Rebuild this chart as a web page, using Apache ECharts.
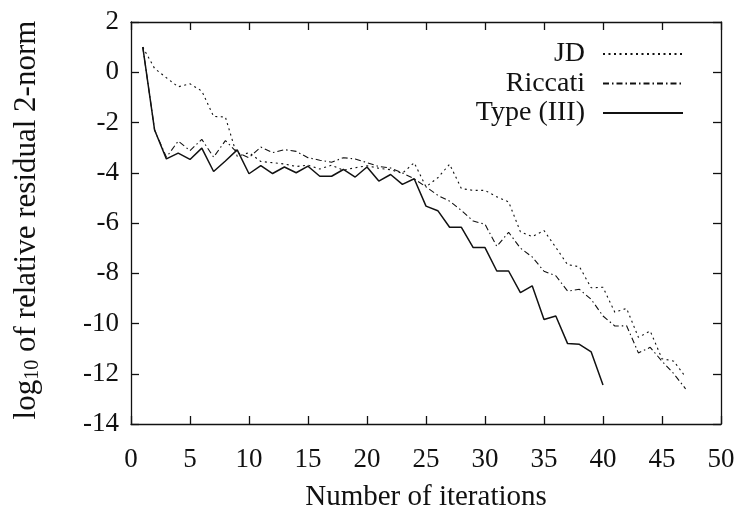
<!DOCTYPE html>
<html>
<head>
<meta charset="utf-8">
<script src="https://cdn.jsdelivr.net/npm/echarts@6/dist/echarts.min.js"></script>
<style>
html,body{margin:0;padding:0;background:#fff;}
#c{width:742px;height:517px;}
</style>
</head>
<body>
<div id="c"></div>
<script>
// iteration numbers
const iterJD = [1,2,3,4,5,6,7,8,9,10,11,12,13,14,15,16,17,18,19,20,21,22,23,24,25,26,27,28,29,30,31,32,33,34,35,36,37,38,39,40,41,42,43,44,45,46,47];
const jd = [1.0,0.15,-0.22,-0.58,-0.46,-0.75,-1.76,-1.78,-3.35,-3.2,-3.55,-3.6,-3.65,-3.75,-3.7,-3.85,-3.7,-3.9,-3.8,-3.72,-3.82,-3.88,-4.02,-3.6,-4.56,-4.2,-3.66,-4.63,-4.7,-4.7,-4.96,-5.16,-6.35,-6.54,-6.3,-6.97,-7.66,-7.74,-8.58,-8.56,-9.55,-9.4,-10.55,-10.3,-11.4,-11.5,-12.13];
const iterRic = [1,2,3,4,5,6,7,8,9,10,11,12,13,14,15,16,17,18,19,20,21,22,23,24,25,26,27,28,29,30,31,32,33,34,35,36,37,38,39,40,41,42,43,44,45,46,47];
const riccati = [1.0,-2.3,-3.38,-2.74,-3.12,-2.67,-3.38,-2.72,-3.2,-3.4,-2.98,-3.2,-3.08,-3.15,-3.4,-3.5,-3.58,-3.4,-3.45,-3.6,-3.75,-3.81,-4.01,-4.24,-4.56,-4.9,-5.13,-5.5,-5.92,-6.05,-6.93,-6.37,-7.0,-7.35,-7.92,-8.1,-8.71,-8.64,-9.04,-9.7,-10.1,-10.09,-11.17,-10.95,-11.5,-12.0,-12.6];
const iterT3 = [1,2,3,4,5,6,7,8,9,10,11,12,13,14,15,16,17,18,19,20,21,22,23,24,25,26,27,28,29,30,31,32,33,34,35,36,37,38,39,40];
const type3 = [1.0,-2.3,-3.45,-3.22,-3.47,-3.02,-3.95,-3.53,-3.09,-4.04,-3.72,-4.03,-3.77,-4.0,-3.74,-4.14,-4.14,-3.87,-4.17,-3.77,-4.33,-4.07,-4.46,-4.24,-5.33,-5.51,-6.17,-6.17,-6.98,-6.98,-7.91,-7.91,-8.77,-8.5,-9.84,-9.7,-10.8,-10.83,-11.13,-12.45];
const seriesNames = ['JD','Riccati','Type (III)'];
const xTicks = {min:0, max:50, interval:5};
const yTicks = {min:-14, max:2, interval:2};

const pair = (xs, ys) => xs.map((x,i)=>[x, ys[i]]);
const FONT = '"Liberation Serif","Times New Roman",serif';
const INK = '#111';

const chart = echarts.init(document.getElementById('c'), null, {renderer:'canvas'});
const axisCommon = () => ({
  axisLine:{show:true, onZero:false, lineStyle:{color:INK, width:1.3}},
  axisTick:{show:true, inside:true, length:8, lineStyle:{color:INK, width:1.3}},
  splitLine:{show:false}
});
chart.setOption({
  animation:false,
  backgroundColor:'#fff',
  grid:{left:131, right:21, top:22, bottom:89, show:false},
  legend:{
    data:seriesNames,
    orient:'vertical',
    align:'right',
    right:53, top:35,
    itemWidth:80, itemHeight:14, itemGap:1.5,
    itemStyle:{opacity:0, borderWidth:0},
    textStyle:{fontFamily:FONT, fontSize:28, color:INK, lineHeight:28, padding:[0,13,0,0]}
  },
  xAxis:[
    Object.assign({type:'value', position:'bottom', min:xTicks.min, max:xTicks.max, interval:xTicks.interval,
      axisLabel:{fontFamily:FONT, fontSize:27, color:INK, margin:22},
      name:'Number of iterations', nameLocation:'middle', nameGap:59,
      nameTextStyle:{fontFamily:FONT, fontSize:29, color:INK}}, axisCommon()),
    Object.assign({type:'value', position:'top', min:xTicks.min, max:xTicks.max, interval:xTicks.interval,
      axisLabel:{show:false}}, axisCommon())
  ],
  yAxis:[
    Object.assign({type:'value', position:'left', min:yTicks.min, max:yTicks.max, interval:yTicks.interval,
      axisLabel:{fontFamily:FONT, fontSize:27, color:INK, margin:12},
      name:'{m|log}{s|10}{m| of relative residual 2-norm}', nameLocation:'middle', nameGap:88, nameRotate:90,
      nameTextStyle:{fontFamily:FONT, color:INK, padding:[0,0,0,6],
        rich:{m:{fontFamily:FONT, fontSize:31, color:INK, lineHeight:32, verticalAlign:'top'},
              s:{fontFamily:FONT, fontSize:20, color:INK, lineHeight:16, verticalAlign:'bottom'}}}}, axisCommon()),
    Object.assign({type:'value', position:'right', min:yTicks.min, max:yTicks.max, interval:yTicks.interval,
      axisLabel:{show:false}}, axisCommon())
  ],
  series:[
    {name:seriesNames[0], type:'line', data:pair(iterJD, jd), symbol:'none', showSymbol:false,
     lineStyle:{color:INK, width:1.1, type:[2,3.5]}, itemStyle:{color:INK}},
    {name:seriesNames[1], type:'line', data:pair(iterRic, riccati), symbol:'none', showSymbol:false,
     lineStyle:{color:INK, width:1.1, type:[6,3,1.5,3]}, itemStyle:{color:INK}},
    {name:seriesNames[2], type:'line', data:pair(iterT3, type3), symbol:'none', showSymbol:false,
     lineStyle:{color:INK, width:1.5, type:'solid'}, itemStyle:{color:INK}}
  ]
});
</script>
</body>
</html>
